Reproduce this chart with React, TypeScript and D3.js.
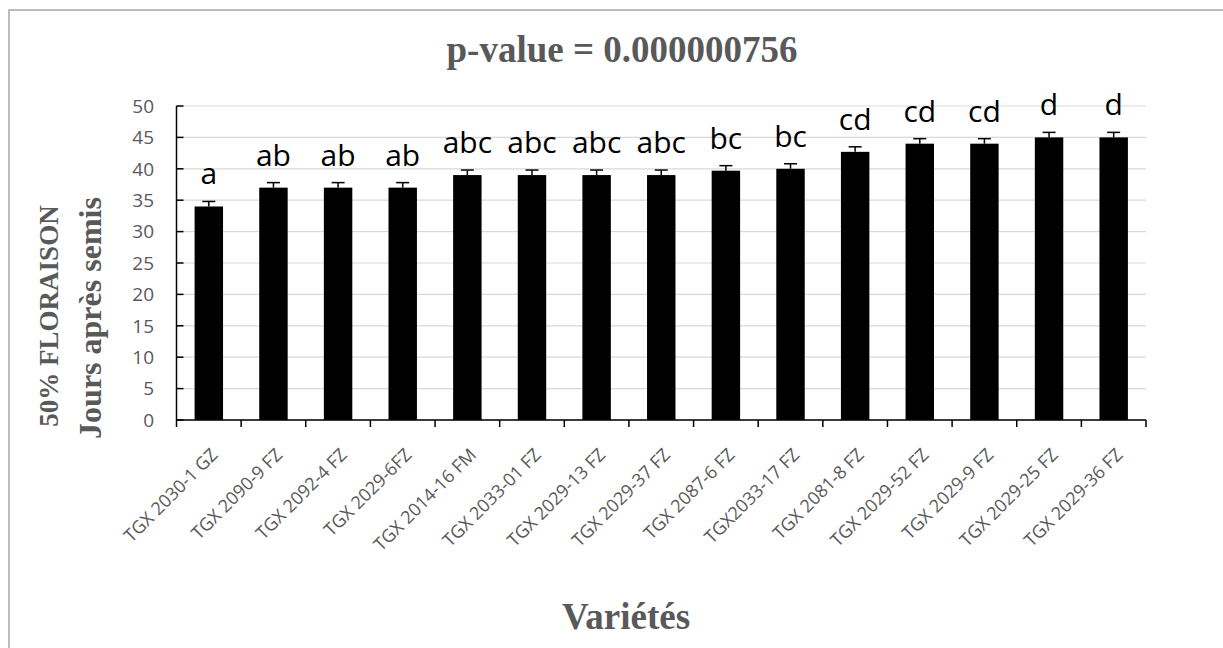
import React from "react";
import * as d3 from "d3";

// Varieties, in plotting order
const varieties = [
  "TGX 2030-1 GZ",
  "TGX 2090-9 FZ",
  "TGX 2092-4 FZ",
  "TGX 2029-6FZ",
  "TGX 2014-16 FM",
  "TGX 2033-01 FZ",
  "TGX 2029-13 FZ",
  "TGX 2029-37 FZ",
  "TGX 2087-6 FZ",
  "TGX2033-17 FZ",
  "TGX 2081-8 FZ",
  "TGX 2029-52 FZ",
  "TGX 2029-9 FZ",
  "TGX 2029-25 FZ",
  "TGX 2029-36 FZ",
];

// Days after sowing to 50% flowering (means)
const daysToFlowering = [34, 37, 37, 37, 39, 39, 39, 39, 39.7, 40, 42.7, 44, 44, 45, 45];

// Standard errors
const standardErrors = [0.8, 0.8, 0.8, 0.8, 0.8, 0.8, 0.8, 0.8, 0.8, 0.8, 0.8, 0.8, 0.8, 0.8, 0.8];

// Mean separation groups
const groupLetters = ["a", "ab", "ab", "ab", "abc", "abc", "abc", "abc", "bc", "bc", "cd", "cd", "cd", "d", "d"];

const yTicks = [0, 5, 10, 15, 20, 25, 30, 35, 40, 45, 50];

const W = 1223;
const H = 648;
const plot = { left: 176.5, right: 1146, top: 106, bottom: 420 };

const GREY_TEXT = "#595959";
const SANS = "'Open Sans', Lato, sans-serif";
const SERIF = "'Liberation Serif', 'Times New Roman', serif";

export default function App() {
  const x = d3.scaleBand<string>().domain(varieties).range([plot.left, plot.right]).padding(0);
  const y = d3.scaleLinear().domain([0, 50]).range([plot.bottom, plot.top]);
  const barW = x.bandwidth() * 0.44;
  const capW = 13;

  const boundaries = d3.range(varieties.length + 1).map((i) => plot.left + i * x.step());

  return (
    <svg
      width={W}
      height={H}
      style={{ position: "absolute", left: 0, top: 0, background: "#fff" }}
    >
      {/* chart frame */}
      <rect x={9} y={10} width={W} height={H} fill="none" stroke="#a6a6a6" strokeWidth={1.5} />

      {/* title */}
      <text
        x={622}
        y={62}
        textAnchor="middle"
        fontFamily={SERIF}
        fontWeight="bold"
        fontSize={37}
        fill={GREY_TEXT}
      >
        p-value = 0.000000756
      </text>

      {/* gridlines */}
      {yTicks.map((t) => (
        <line
          key={"g" + t}
          x1={plot.left}
          x2={plot.right}
          y1={y(t)}
          y2={y(t)}
          stroke="#d9d9d9"
          strokeWidth={1.2}
        />
      ))}

      {/* bars */}
      {varieties.map((v, i) => {
        const cx = x(v)! + x.bandwidth() / 2;
        return (
          <rect
            key={"b" + v}
            x={cx - barW / 2}
            y={y(daysToFlowering[i])}
            width={barW}
            height={plot.bottom - y(daysToFlowering[i])}
            fill="#000"
          />
        );
      })}

      {/* error bars (upper half) */}
      {varieties.map((v, i) => {
        const cx = x(v)! + x.bandwidth() / 2;
        const top = y(daysToFlowering[i] + standardErrors[i]);
        return (
          <g key={"e" + v} stroke="#000" strokeWidth={1.5}>
            <line x1={cx} x2={cx} y1={y(daysToFlowering[i])} y2={top} />
            <line x1={cx - capW / 2} x2={cx + capW / 2} y1={top} y2={top} />
          </g>
        );
      })}

      {/* group letters */}
      {varieties.map((v, i) => {
        const cx = x(v)! + x.bandwidth() / 2;
        const top = y(daysToFlowering[i] + standardErrors[i]);
        return (
          <text
            key={"l" + v}
            x={cx}
            y={top - 17}
            textAnchor="middle"
            fontFamily={SANS}
            fontSize={30}
            fill="#000"
          >
            {groupLetters[i]}
          </text>
        );
      })}

      {/* y axis */}
      <line x1={plot.left} x2={plot.left} y1={plot.top} y2={plot.bottom} stroke="#000" strokeWidth={1.5} />
      {yTicks.map((t) => (
        <g key={"yt" + t}>
          <line x1={plot.left} x2={plot.left + 7} y1={y(t)} y2={y(t)} stroke="#000" strokeWidth={1.5} />
          <text
            x={154}
            y={y(t)}
            dy="0.36em"
            textAnchor="end"
            fontFamily={SANS}
            fontSize={19}
            fill={GREY_TEXT}
          >
            {t}
          </text>
        </g>
      ))}

      {/* x axis */}
      <line x1={plot.left} x2={plot.right} y1={plot.bottom} y2={plot.bottom} stroke="#000" strokeWidth={1.5} />
      {boundaries.map((bx, i) => (
        <line key={"xt" + i} x1={bx} x2={bx} y1={plot.bottom} y2={plot.bottom + 7} stroke="#000" strokeWidth={1.5} />
      ))}
      {varieties.map((v) => {
        const cx = x(v)! + x.bandwidth() / 2;
        return (
          <text
            key={"xl" + v}
            transform={`translate(${cx + 10},${plot.bottom + 36}) rotate(-45)`}
            textAnchor="end"
            fontFamily={SANS}
            fontSize={18}
            fill={GREY_TEXT}
          >
            {v}
          </text>
        );
      })}

      {/* axis titles */}
      <text
        transform="translate(58,316) rotate(-90)"
        textAnchor="middle"
        fontFamily={SERIF}
        fontWeight="bold"
        fontSize={27}
        fill={GREY_TEXT}
      >
        50% FLORAISON
      </text>
      <text
        transform="translate(101,318) rotate(-90)"
        textAnchor="middle"
        fontFamily={SERIF}
        fontWeight="bold"
        fontSize={32}
        fill={GREY_TEXT}
      >
        Jours après semis
      </text>
      <text
        x={626}
        y={629}
        textAnchor="middle"
        fontFamily={SERIF}
        fontWeight="bold"
        fontSize={37}
        fill={GREY_TEXT}
      >
        Variétés
      </text>
    </svg>
  );
}
